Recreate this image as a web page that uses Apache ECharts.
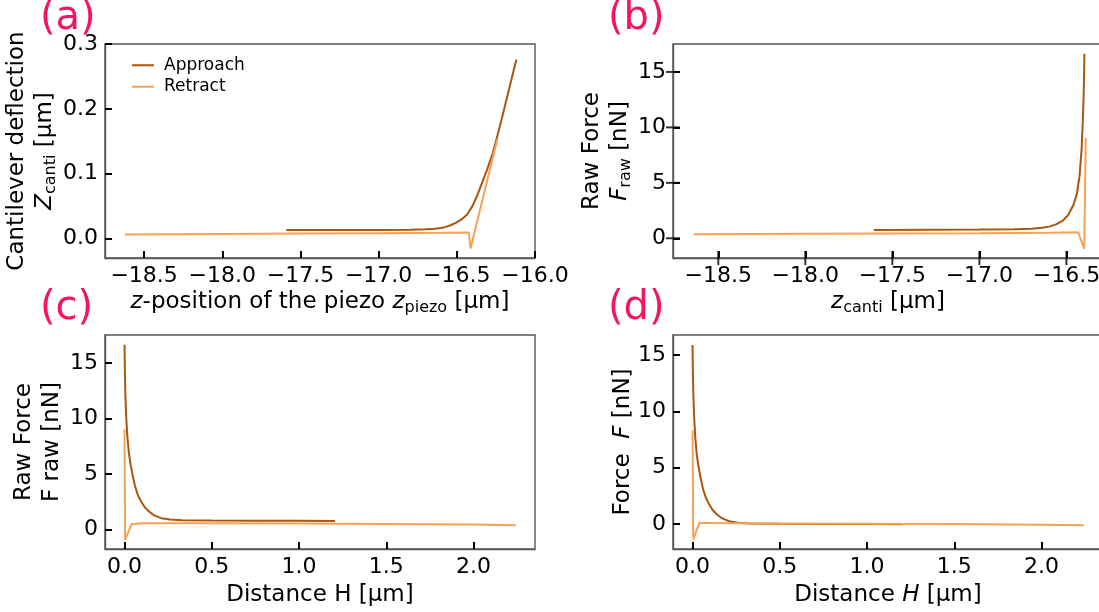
<!DOCTYPE html>
<html>
<head>
<meta charset="utf-8">
<script src="https://cdn.jsdelivr.net/npm/echarts@6/dist/echarts.min.js"></script>
<style>
html,body{margin:0;padding:0;background:#fff;}
#chart{width:1099px;height:612px;}
</style>
</head>
<body>
<div id="chart"></div>
<script>
// ---------- data ----------
const aApproachX = [-17.591, -17.3, -17.0, -16.8, -16.7, -16.64, -16.6, -16.57, -16.54, -16.51, -16.48, -16.455, -16.433, -16.40, -16.37, -16.34, -16.305, -16.27, -16.241, -16.21, -16.177, -16.15, -16.119];
const aApproachY = [0.0130, 0.0130, 0.0132, 0.0135, 0.0142, 0.0150, 0.0162, 0.0180, 0.0205, 0.0238, 0.0280, 0.0325, 0.0375, 0.050, 0.066, 0.085, 0.107, 0.132, 0.158, 0.187, 0.2195, 0.246, 0.276];
const aRetractX = [-18.623, -18.0, -17.5, -17.0, -16.6, -16.423, -16.412, -16.241];
const aRetractY = [0.0063, 0.0072, 0.0078, 0.0083, 0.0088, 0.0092, -0.0153, 0.153];
const bApproachX = [-17.606, -17.3, -17.0, -16.8, -16.7, -16.64, -16.6, -16.56, -16.52, -16.49, -16.46, -16.44, -16.425, -16.413, -16.406, -16.401, -16.398, -16.397];
const bApproachY = [0.74, 0.76, 0.78, 0.82, 0.86, 0.94, 1.05, 1.25, 1.6, 2.1, 3.0, 4.0, 5.6, 8.0, 10.5, 13.0, 15.2, 16.64];
const bRetractX = [-18.641, -18.0, -17.5, -17.0, -16.6, -16.433, -16.398, -16.389];
const bRetractY = [0.36, 0.40, 0.43, 0.46, 0.50, 0.55, -0.95, 9.05];
const cApproachX = [0.0, 0.002, 0.005, 0.010, 0.016, 0.024, 0.034, 0.046, 0.060, 0.076, 0.095, 0.115, 0.14, 0.17, 0.21, 0.26, 0.33, 0.5, 0.8, 1.0, 1.206];
const cApproachY = [16.64, 14.2, 12.0, 10.0, 8.4, 7.0, 5.9, 4.9, 3.9, 3.1, 2.5, 2.0, 1.6, 1.25, 1.0, 0.88, 0.82, 0.79, 0.77, 0.76, 0.74];
const cRetractX = [0.0, 0.003, 0.040, 0.1, 0.5, 1.0, 1.5, 2.0, 2.241];
const cRetractY = [9.0, -0.93, 0.45, 0.55, 0.55, 0.52, 0.47, 0.42, 0.36];
const dApproachX = [0.0, 0.002, 0.005, 0.010, 0.016, 0.024, 0.034, 0.046, 0.060, 0.076, 0.095, 0.115, 0.14, 0.17, 0.21, 0.26, 0.33, 0.5, 0.8, 1.0, 1.206];
const dApproachY = [15.88, 13.4, 11.2, 9.2, 7.6, 6.2, 5.1, 4.1, 3.1, 2.35, 1.75, 1.25, 0.85, 0.5, 0.25, 0.12, 0.06, 0.03, 0.01, 0.0, -0.02];
const dRetractX = [0.0, 0.004, 0.04, 0.1, 0.5, 1.0, 1.5, 2.0, 2.241];
const dRetractY = [8.3, -1.35, 0.12, 0.1, 0.06, 0.03, 0.0, -0.05, -0.1];
const aXTicks = [-18.5, -18.0, -17.5, -17.0, -16.5, -16.0];
const aYTicks = [0.0, 0.1, 0.2, 0.3];
const bXTicks = [-18.5, -18.0, -17.5, -17.0, -16.5];
const bYTicks = [0, 5, 10, 15];
const cXTicks = [0.0, 0.5, 1.0, 1.5, 2.0];
const cYTicks = [0, 5, 10, 15];
const dXTicks = [0.0, 0.5, 1.0, 1.5, 2.0];
const dYTicks = [0, 5, 10, 15];
const seriesNames = ['Approach', 'Retract'];
const panelLabels = ['(a)', '(b)', '(c)', '(d)'];

// ---------- style ----------
const FONT = 'DejaVu Sans';
const C_APP = '#a9560e';
const C_RET = '#f5a257';
const C_LAB = '#f5145f';
const C_FRAME = '#555';
const TICK_FS = 22;
const TITLE_FS = 23;
const TICK_LEN = 7;

const rich = {
  t: {fontSize: TITLE_FS, fontFamily: FONT, color: '#000', lineHeight: 28},
  i: {fontSize: TITLE_FS, fontFamily: FONT, color: '#000', lineHeight: 28, fontStyle: 'italic'},
  s: {fontSize: 16, fontFamily: FONT, color: '#000', lineHeight: 15, verticalAlign: 'bottom'}
};

function fmt(v, d) {
  let s = Math.abs(v) < 1e-12 ? (0).toFixed(d) : v.toFixed(d);
  return s.replace('-', '\u2212');
}
function pairs(xs, ys) { return xs.map((x, k) => [x, ys[k]]); }

const grids = [
  {left: 105, top: 44, width: 430, height: 214, show: true, borderColor: C_FRAME, borderWidth: 1.4},
  {left: 673, top: 44, width: 430, height: 214, show: true, borderColor: C_FRAME, borderWidth: 1.4, outerBoundsMode: 'none'},
  {left: 105, top: 335, width: 430, height: 214, show: true, borderColor: C_FRAME, borderWidth: 1.4, outerBoundsMode: 'none'},
  {left: 673, top: 335, width: 430, height: 214, show: true, borderColor: C_FRAME, borderWidth: 1.4, outerBoundsMode: 'none'}
];

function axisCommon(ticks, dec) {
  return {
    splitLine: {show: false},
    axisLine: {show: true, onZero: false, lineStyle: {color: C_FRAME, width: 1.4}},
    axisTick: {show: true, inside: true, length: TICK_LEN, lineStyle: {color: '#000', width: 2}, customValues: ticks},
    axisLabel: {margin: 7, fontSize: TICK_FS, fontFamily: FONT, color: '#000', customValues: ticks, formatter: v => fmt(v, dec)}
  };
}
function xAx(gi, min, max, ticks, dec, name, gap, useRich) {
  return Object.assign({
    type: 'value', gridIndex: gi, min: min, max: max, position: 'bottom',
    name: name, nameLocation: 'middle', nameGap: gap,
    nameTextStyle: useRich === false ? {fontSize: TITLE_FS, fontFamily: FONT, color: '#000', lineHeight: 28} : {fontSize: TITLE_FS, rich: rich}
  }, axisCommon(ticks, dec));
}
function yAx(gi, min, max, ticks, dec, name, gap, useRich) {
  return Object.assign({
    type: 'value', gridIndex: gi, min: min, max: max, position: 'left',
    name: name, nameLocation: 'middle', nameGap: gap, nameRotate: 90,
    nameTextStyle: useRich === false ? {fontSize: TITLE_FS, fontFamily: FONT, color: '#000', lineHeight: 28} : {fontSize: TITLE_FS, rich: rich}
  }, axisCommon(ticks, dec));
}

const xAxes = [
  xAx(0, -18.75, -16.0, aXTicks, 1, '{i|z}{t|-position of the piezo }{i|z}{s|piezo}{t| [μm]}', 30),
  xAx(1, -18.76, -16.29, bXTicks, 1, '{i|z}{s|canti}{t| [μm]}', 30),
  xAx(2, -0.112, 2.352, cXTicks, 1, 'Distance H [μm]', 32.5, false),
  xAx(3, -0.112, 2.352, dXTicks, 1, '{t|Distance }{i|H}{t| [μm]}', 32.5)
];
const yAxes = [
  yAx(0, -0.03, 0.3, aYTicks, 1, '{t|Cantilever deflection}\n{i|Z}{s|canti}{t| [μm]}', 43),
  yAx(1, -1.78, 17.52, bYTicks, 0, '{t|Raw Force}\n{i|F}{s|raw}{t| [nN]}', 35.5),
  yAx(2, -1.78, 17.52, cYTicks, 0, 'Raw Force\nF raw [nN]', 36.5, false),
  yAx(3, -2.21, 16.76, dYTicks, 0, '{t|Force  }{i|F}{t| [nN]}', 35.5)
];

function line(name, gi, xs, ys, color) {
  return {
    name: name, type: 'line', xAxisIndex: gi, yAxisIndex: gi,
    data: pairs(xs, ys), showSymbol: false,
    lineStyle: {color: color, width: 2}, itemStyle: {color: color}
  };
}
// tick marks as rect symbols placed by the axes' scales (panel b)
function tickMarks(gi, xTicks, yTicks, xMin, yMin) {
  const d = xTicks.map(v => ({value: [v, yMin], symbolSize: [2, TICK_LEN * 2]}))
    .concat(yTicks.map(v => ({value: [xMin, v], symbolSize: [TICK_LEN * 2, 2]})));
  return {type: 'scatter', xAxisIndex: gi, yAxisIndex: gi, symbol: 'rect', data: d, clip: true,
    itemStyle: {color: '#000'}, silent: true, z: 10};
}

const series = [
  line(seriesNames[0], 0, aApproachX, aApproachY, C_APP),
  line(seriesNames[1], 0, aRetractX, aRetractY, C_RET),
  line(seriesNames[0], 1, bApproachX, bApproachY, C_APP),
  line(seriesNames[1], 1, bRetractX, bRetractY, C_RET),
  line(seriesNames[0], 2, cApproachX, cApproachY, C_APP),
  line(seriesNames[1], 2, cRetractX, cRetractY, C_RET),
  line(seriesNames[0], 3, dApproachX, dApproachY, C_APP),
  line(seriesNames[1], 3, dRetractX, dRetractY, C_RET),
  tickMarks(1, bXTicks, bYTicks, -18.76, -1.78)
];

const labelPos = [[40, 19], [608, 19], [40, 309], [608, 309]];
const graphic = panelLabels.map((t, k) => ({
  type: 'text', x: labelPos[k][0], y: labelPos[k][1], silent: true,
  style: {text: t, fill: C_LAB, fontSize: 40, fontFamily: FONT, textAlign: 'left', textVerticalAlign: 'middle'}
}));

const chart = echarts.init(document.getElementById('chart'));
chart.setOption({
  animation: false,
  grid: grids,
  xAxis: xAxes,
  yAxis: yAxes,
  legend: {
    data: seriesNames, orient: 'vertical', left: 127, top: 51,
    icon: 'rect', itemWidth: 22, itemHeight: 2, itemGap: 3,
    selectedMode: false,
    textStyle: {fontSize: 17, fontFamily: FONT, color: '#000', lineHeight: 18.5, padding: [0, 0, 0, 5]}
  },
  graphic: graphic,
  series: series
});
</script>
</body>
</html>
